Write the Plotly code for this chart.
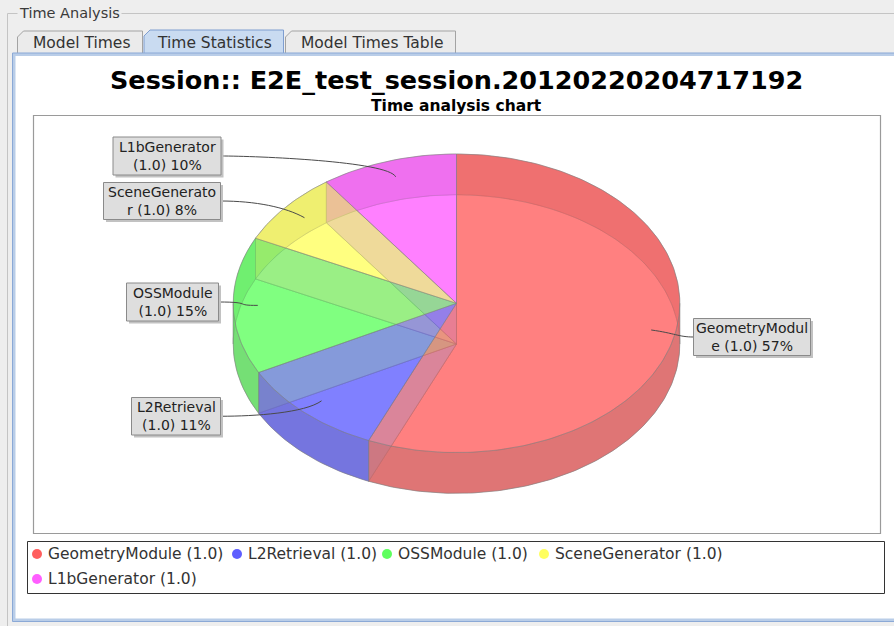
import textwrap
import numpy as np
import plotly.graph_objects as go

# ---------------- data ----------------
modules = ["GeometryModule", "L2Retrieval", "OSSModule", "SceneGenerator", "L1bGenerator"]
versions = ["1.0", "1.0", "1.0", "1.0", "1.0"]
shares = [57, 11, 15, 8, 10]  # percent of total run time per module
chart_title = "Session:: E2E_test_session.20120220204717192"
chart_subtitle = "Time analysis chart"
group_title = "Time Analysis"
tab_names = ["Model Times", "Time Statistics", "Model Times Table"]

# ---------------- styling / layout ----------------
W, H = 894, 626
FONT = "DejaVu Sans"
series_rgb = [(255, 85, 85), (85, 85, 255), (85, 255, 85), (255, 255, 85), (255, 85, 255)]
ALPHA = 0.5
OUTLINE = "rgba(128,128,128,0.55)"

# 3D pie geometry (pixel space of the page)
CX, CY_TOP = 456.5, 303.3
RX, RY = 223.3, 149.3
DEPTH = 40.7
CY_BOT = CY_TOP + DEPTH
LINK_DEPTH = 0.89

# label boxes (x0, y0, x1, y1)
label_boxes = {
    "L1bGenerator": (113, 137, 221, 175),
    "SceneGenerator": (103.5, 182.5, 220.5, 219.5),
    "OSSModule": (126.5, 283, 218.5, 321),
    "L2Retrieval": (131.5, 397.5, 220.5, 435),
    "GeometryModule": (693.5, 318.5, 810.5, 355.5),
}
legend_slots = {
    "GeometryModule": (37, 554),
    "L2Retrieval": (237, 554),
    "OSSModule": (387, 554),
    "SceneGenerator": (544, 554),
    "L1bGenerator": (37, 579),
}
tab_boxes = [(17.5, 31, 142.5), (144, 30, 283.5), (285.5, 31, 455.5)]


def rgba(rgb, a):
    return "rgba(%d,%d,%d,%.3f)" % (rgb[0], rgb[1], rgb[2], a)


def ell(theta, cy):
    t = np.radians(theta)
    return CX + RX * np.cos(t), cy - RY * np.sin(t)


def arc_pts(a, b, cy):
    n = max(3, int(abs(b - a)) + 2)
    th = np.linspace(a, b, n)
    return ell(th, cy)


def sector(hi, lo, cy):
    xs, ys = arc_pts(hi, lo, cy)
    return [CX] + list(xs) + [CX], [cy] + list(ys) + [cy]


def wall(a, b):
    xt, yt = arc_pts(a, b, CY_TOP)
    xb, yb = arc_pts(b, a, CY_BOT)
    return list(xt) + list(xb) + [xt[0]], list(yt) + list(yb) + [yt[0]]


def split_halves(hi, lo):
    cuts = [k * 180.0 for k in range(int(np.floor(lo / 180)) - 1, int(np.ceil(hi / 180)) + 2)]
    pts = sorted(set([hi, lo] + [c for c in cuts if lo < c < hi]), reverse=True)
    out = []
    for a, b in zip(pts[:-1], pts[1:]):
        out.append((a, b, np.sin(np.radians((a + b) / 2)) > 0))
    return out


fig = go.Figure()


def poly(xs, ys, fill, line=None, width=0.8):
    fig.add_trace(go.Scatter(
        x=xs, y=ys, mode="lines", fill="toself", fillcolor=fill,
        line=dict(color=line if line else "rgba(0,0,0,0)", width=width if line else 0),
        hoverinfo="skip", showlegend=False))


# angular boundaries: start at 12 o'clock, run clockwise
total = float(sum(shares))
bounds = [90.0]
for v in shares:
    bounds.append(bounds[-1] - v / total * 360.0)

# 1) bottom faces + radial "height" walls
for i, rgb in enumerate(series_rgb):
    hi, lo = bounds[i], bounds[i + 1]
    xs, ys = sector(hi, lo, CY_BOT)
    poly(xs, ys, rgba(rgb, ALPHA), OUTLINE)
    ex, ey = ell(hi, CY_BOT)
    poly([CX, CX, ex, ex, CX], [CY_BOT, CY_TOP, ey - DEPTH, ey, CY_BOT],
         rgba((192, 192, 192), ALPHA), OUTLINE)

# 2) grey back and front rims
for a, b in [(180, 0), (360, 180)]:
    xs, ys = wall(a, b)
    poly(xs, ys, rgba((128, 128, 128), ALPHA))

# 3) coloured sides, back first then front
for want_back in (True, False):
    for i, rgb in enumerate(series_rgb):
        for a, b, is_back in split_halves(bounds[i], bounds[i + 1]):
            if is_back == want_back:
                xs, ys = wall(a, b)
                poly(xs, ys, rgba(rgb, ALPHA), OUTLINE)

# 4) top faces
for i, rgb in enumerate(series_rgb):
    xs, ys = sector(bounds[i], bounds[i + 1], CY_TOP)
    poly(xs, ys, rgba(rgb, ALPHA), OUTLINE)

# legend markers
fig.add_trace(go.Scatter(
    x=[legend_slots[m][0] for m in modules], y=[legend_slots[m][1] for m in modules],
    mode="markers", marker=dict(size=10, color=[rgba(c, 0.95) for c in series_rgb], line=dict(width=0)),
    hoverinfo="skip", showlegend=False))

shapes = []
annotations = []

# window chrome: titled border, tabs, content panel
shapes.append(dict(type="line", x0=7.5, y0=13.5, x1=W + 2, y1=13.5, line=dict(color="#c4c4c4", width=1), layer="below"))
shapes.append(dict(type="line", x0=7.5, y0=13.5, x1=7.5, y1=H + 2, line=dict(color="#c4c4c4", width=1), layer="below"))
annotations.append(dict(x=17, y=13, text=group_title, showarrow=False, xanchor="left", yanchor="middle",
                        font=dict(family=FONT, size=14.5, color="#3a3a3a"), bgcolor="#eeeeee", borderpad=1))

for k, (name, (x0, y0, x1)) in enumerate(zip(tab_names, tab_boxes)):
    selected = k == 1
    path = "M %g,%g L %g,%g L %g,%g L %g,%g L %g,%g" % (x0, 55, x0, y0 + 6, x0 + 6, y0, x1, y0, x1, 55)
    shapes.append(dict(type="path", path=path,
                       fillcolor="#c9dbf1" if selected else "#ebebeb",
                       line=dict(color="#7f9ed0" if selected else "#a3a3a3", width=1), layer="below"))
    annotations.append(dict(x=(x0 + x1) / 2 + 1, y=43, text=name, showarrow=False, xanchor="center", yanchor="middle",
                            font=dict(family=FONT, size=15.5, color="#333333")))

shapes.append(dict(type="rect", x0=14, y0=54.5, x1=W + 10, y1=620, fillcolor="white",
                   line=dict(color="#b9cde8", width=3), layer="below"))
shapes.append(dict(type="rect", x0=12.5, y0=53, x1=W + 10, y1=621.5, fillcolor="rgba(0,0,0,0)",
                   line=dict(color="#8ba9d6", width=1), layer="below"))

# chart titles
annotations.append(dict(x=456.5, y=80, text=chart_title, showarrow=False, xanchor="center", yanchor="middle",
                        font=dict(family=FONT, size=25.5, color="black", weight="bold")))
annotations.append(dict(x=456.5, y=105.5, text=chart_subtitle, showarrow=False, xanchor="center", yanchor="middle",
                        font=dict(family=FONT, size=15.5, color="black", weight="bold")))

# plot area and legend frames
shapes.append(dict(type="rect", x0=33.5, y0=115.5, x1=880.5, y1=533.5, fillcolor="white",
                   line=dict(color="#9a9a9a", width=1.2), layer="below"))
shapes.append(dict(type="rect", x0=27.5, y0=541.5, x1=884.5, y1=593.5, fillcolor="white",
                   line=dict(color="#333333", width=1), layer="below"))
for m, v in zip(modules, versions):
    lx, ly = legend_slots[m]
    annotations.append(dict(x=lx + 8.5, y=ly, text="%s (%s)" % (m, v), showarrow=False, xanchor="left",
                            yanchor="middle", font=dict(family=FONT, size=15.5, color="#333333")))

# section labels with curved links
for i, (m, v, p) in enumerate(zip(modules, versions, shares)):
    x0, y0, x1, y1 = label_boxes[m]
    yc = (y0 + y1) / 2
    mid = (bounds[i] + bounds[i + 1]) / 2
    t = np.radians(mid)
    ax = CX + np.cos(t) * RX * LINK_DEPTH
    ay = CY_TOP - np.sin(t) * RY * LINK_DEPTH
    elx = CX + np.cos(t) * RX
    ely = CY_TOP - np.sin(t) * RY
    left = ax < CX
    bx = x1 if left else x0
    c1x = bx + (35 if left else -15)
    shapes.append(dict(type="path",
                       path="M %.2f,%.2f C %.2f,%.2f %.2f,%.2f %.2f,%.2f" % (bx, yc, c1x, yc, elx, ely, ax, ay),
                       line=dict(color="#4a4a4a", width=1), layer="above"))
    shapes.append(dict(type="rect", x0=x0 + 2.5, y0=y0 + 2.5, x1=x1 + 2.5, y1=y1 + 2.5,
                       fillcolor="#c2c2c2", line=dict(width=0), layer="above"))
    shapes.append(dict(type="rect", x0=x0, y0=y0, x1=x1, y1=y1,
                       fillcolor="#dedede", line=dict(color="#8a8a8a", width=1), layer="above"))
    lines = textwrap.wrap("%s (%s) %d%%" % (m, v, p), width=13, break_long_words=True)
    annotations.append(dict(x=(x0 + x1) / 2, y=yc, text="<br>".join(lines), showarrow=False,
                            xanchor="center", yanchor="middle", align="center",
                            font=dict(family=FONT, size=14, color="#222222")))

fig.update_layout(
    width=W, height=H,
    margin=dict(l=0, r=0, t=0, b=0),
    paper_bgcolor="#eeeeee", plot_bgcolor="rgba(0,0,0,0)",
    xaxis=dict(range=[0, W], domain=[0, 1], visible=False, fixedrange=True),
    yaxis=dict(range=[H, 0], domain=[0, 1], visible=False, fixedrange=True),
    shapes=shapes, annotations=annotations,
    showlegend=False,
)

fig.write_html("out.html", config={"displayModeBar": False})
